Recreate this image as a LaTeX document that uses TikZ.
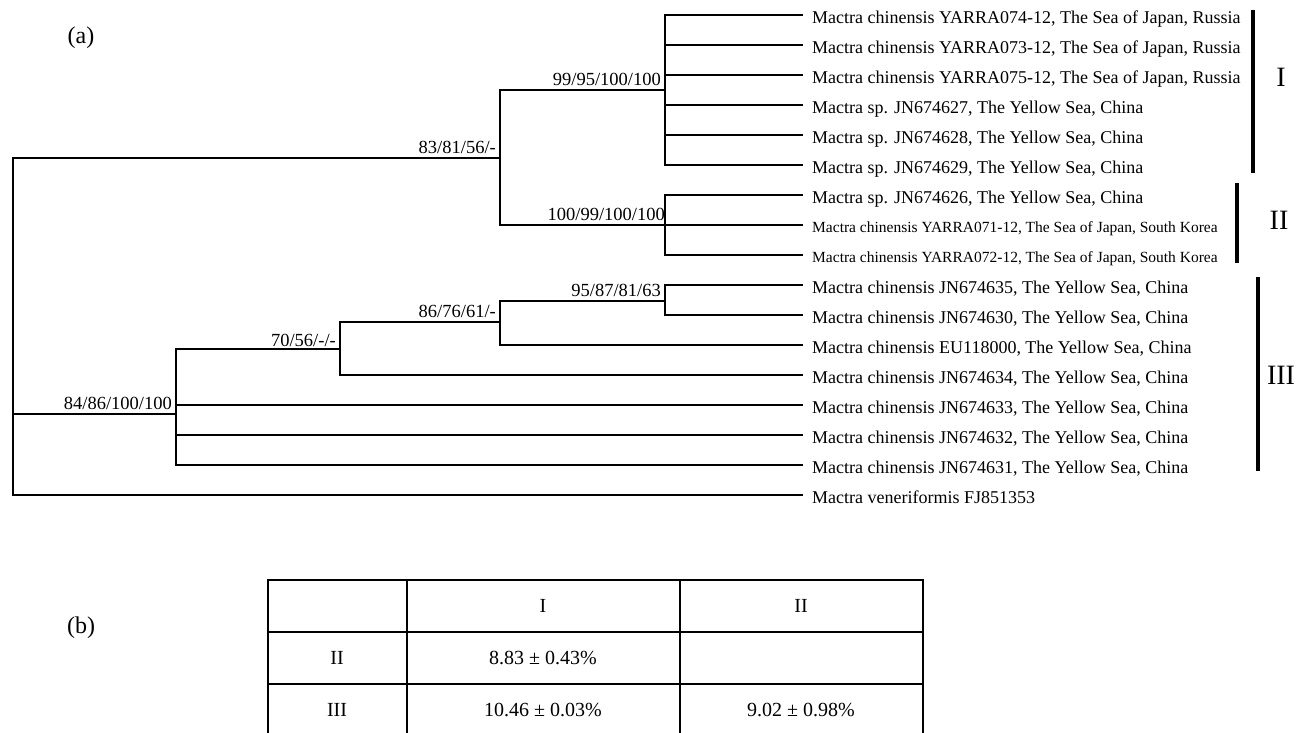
\documentclass[tikz,border=0pt]{standalone}
\usepackage{fontspec}
\setmainfont{Liberation Serif}

\begin{document}
\begin{tikzpicture}[
    x=1pt, y=-1pt,
    branch/.style={line width=1.8pt},
    leaf/.style={anchor=west, inner xsep=9pt, inner ysep=0pt, text height=20.5pt, text depth=4pt,
                 font=\fontsize{18}{20}\selectfont},
    smallleaf/.style={leaf, text height=19.5pt, font=\fontsize{15.5}{18}\selectfont},
    support/.style={anchor=south east, inner sep=4pt, text depth=0pt, font=\fontsize{18.5}{20}\selectfont},
    cladebar/.style={line width=3.5pt},
    cladename/.style={font=\fontsize{28}{30}\selectfont},
    panel/.style={font=\fontsize{24}{26}\selectfont},
    tablerule/.style={line width=2.5pt},
    cell/.style={font=\fontsize{20}{22}\selectfont},
]

\clip (0,0) rectangle (1299,732);

% Panel labels
\node[panel] (pa) at (81,38) {(a)};
\node[panel] (pb) at (81,628) {(b)};

% Internal nodes
\coordinate (root) at (13,326);
\coordinate (n83) at (500,158);
\coordinate (n99) at (665,90);
\coordinate (n100) at (665,225);
\coordinate (n84) at (176,414);
\coordinate (n70) at (340,349);
\coordinate (n86) at (500,322);
\coordinate (n95) at (665,301);

% Leaves
\node[leaf] (y074) at (803,15) {Mactra chinensis YARRA074-12, The Sea of Japan, Russia};
\node[leaf] (y073) at (803,45) {Mactra chinensis YARRA073-12, The Sea of Japan, Russia};
\node[leaf] (y075) at (803,75) {Mactra chinensis YARRA075-12, The Sea of Japan, Russia};
\node[leaf] (jn627) at (803,105) {Mactra sp. JN674627, The Yellow Sea, China};
\node[leaf] (jn628) at (803,135) {Mactra sp. JN674628, The Yellow Sea, China};
\node[leaf] (jn629) at (803,165) {Mactra sp. JN674629, The Yellow Sea, China};
\node[leaf] (jn626) at (803,195) {Mactra sp. JN674626, The Yellow Sea, China};
\node[smallleaf] (y071) at (803,225) {Mactra chinensis YARRA071-12, The Sea of Japan, South Korea};
\node[smallleaf] (y072) at (803,255) {Mactra chinensis YARRA072-12, The Sea of Japan, South Korea};
\node[leaf] (jn635) at (803,285) {Mactra chinensis JN674635, The Yellow Sea, China};
\node[leaf] (jn630) at (803,315) {Mactra chinensis JN674630, The Yellow Sea, China};
\node[leaf] (eu000) at (803,345) {Mactra chinensis EU118000, The Yellow Sea, China};
\node[leaf] (jn634) at (803,375) {Mactra chinensis JN674634, The Yellow Sea, China};
\node[leaf] (jn633) at (803,405) {Mactra chinensis JN674633, The Yellow Sea, China};
\node[leaf] (jn632) at (803,435) {Mactra chinensis JN674632, The Yellow Sea, China};
\node[leaf] (jn631) at (803,465) {Mactra chinensis JN674631, The Yellow Sea, China};
\node[leaf] (fj353) at (803,495) {Mactra veneriformis FJ851353};

% Support values
\node[support] at (n83) {83/81/56/-};
\node[support] at (n99) {99/95/100/100};
\node[support, inner xsep=0pt] at (n100) {100/99/100/100};
\node[support] at (n84) {84/86/100/100};
\node[support, inner ysep=2pt] at (n70) {70/56/-/-};
\node[support] at (n86) {86/76/61/-};
\node[support] at (n95) {95/87/81/63};

% Branches
\draw[branch] (root) |- (n83);
\draw[branch] (root) |- (n84);
\draw[branch] (root) |- (fj353.west);

\draw[branch] (n83) |- (n99);
\draw[branch] (n83) |- (n100);
\draw[branch] (n99) |- (y074.west);
\draw[branch] (n99) |- (y073.west);
\draw[branch] (n99) |- (y075.west);
\draw[branch] (n99) |- (jn627.west);
\draw[branch] (n99) |- (jn628.west);
\draw[branch] (n99) |- (jn629.west);
\draw[branch] (n100) |- (jn626.west);
\draw[branch] (n100) |- (y071.west);
\draw[branch] (n100) |- (y072.west);

\draw[branch] (n84) |- (n70);
\draw[branch] (n84) |- (jn633.west);
\draw[branch] (n84) |- (jn632.west);
\draw[branch] (n84) |- (jn631.west);
\draw[branch] (n70) |- (n86);
\draw[branch] (n70) |- (jn634.west);
\draw[branch] (n86) |- (n95);
\draw[branch] (n86) |- (eu000.west);
\draw[branch] (n95) |- (jn635.west);
\draw[branch] (n95) |- (jn630.west);

% Clades
\draw[cladebar] (1253,10) -- (1253,173);
\draw[cladebar] (1237,183) -- (1237,263);
\draw[cladebar] (1258,277) -- (1258,471);
\node[cladename] (cI) at (1281,77) {I};
\node[cladename] (cII) at (1279,220) {II};
\node[cladename] (cIII) at (1281,375) {III};

% Distance table
\draw[tablerule] (268,740) -- (268,580) -- (923,580) -- (923,740);
\draw[tablerule] (407,580) -- (407,740);
\draw[tablerule] (680,580) -- (680,740);
\draw[tablerule] (268,632) -- (923,632);
\draw[tablerule] (268,684) -- (923,684);

\node[cell] (hI) at (543,606) {I};
\node[cell] (hII) at (801,606) {II};
\node[cell] (rII) at (337,658) {II};
\node[cell] (rIII) at (337,710) {III};
\node[cell] (d21) at (543,658) {8.83 ± 0.43\%};
\node[cell] (d31) at (543,710) {10.46 ± 0.03\%};
\node[cell] (d32) at (801,710) {9.02 ± 0.98\%};

\end{tikzpicture}
\end{document}
